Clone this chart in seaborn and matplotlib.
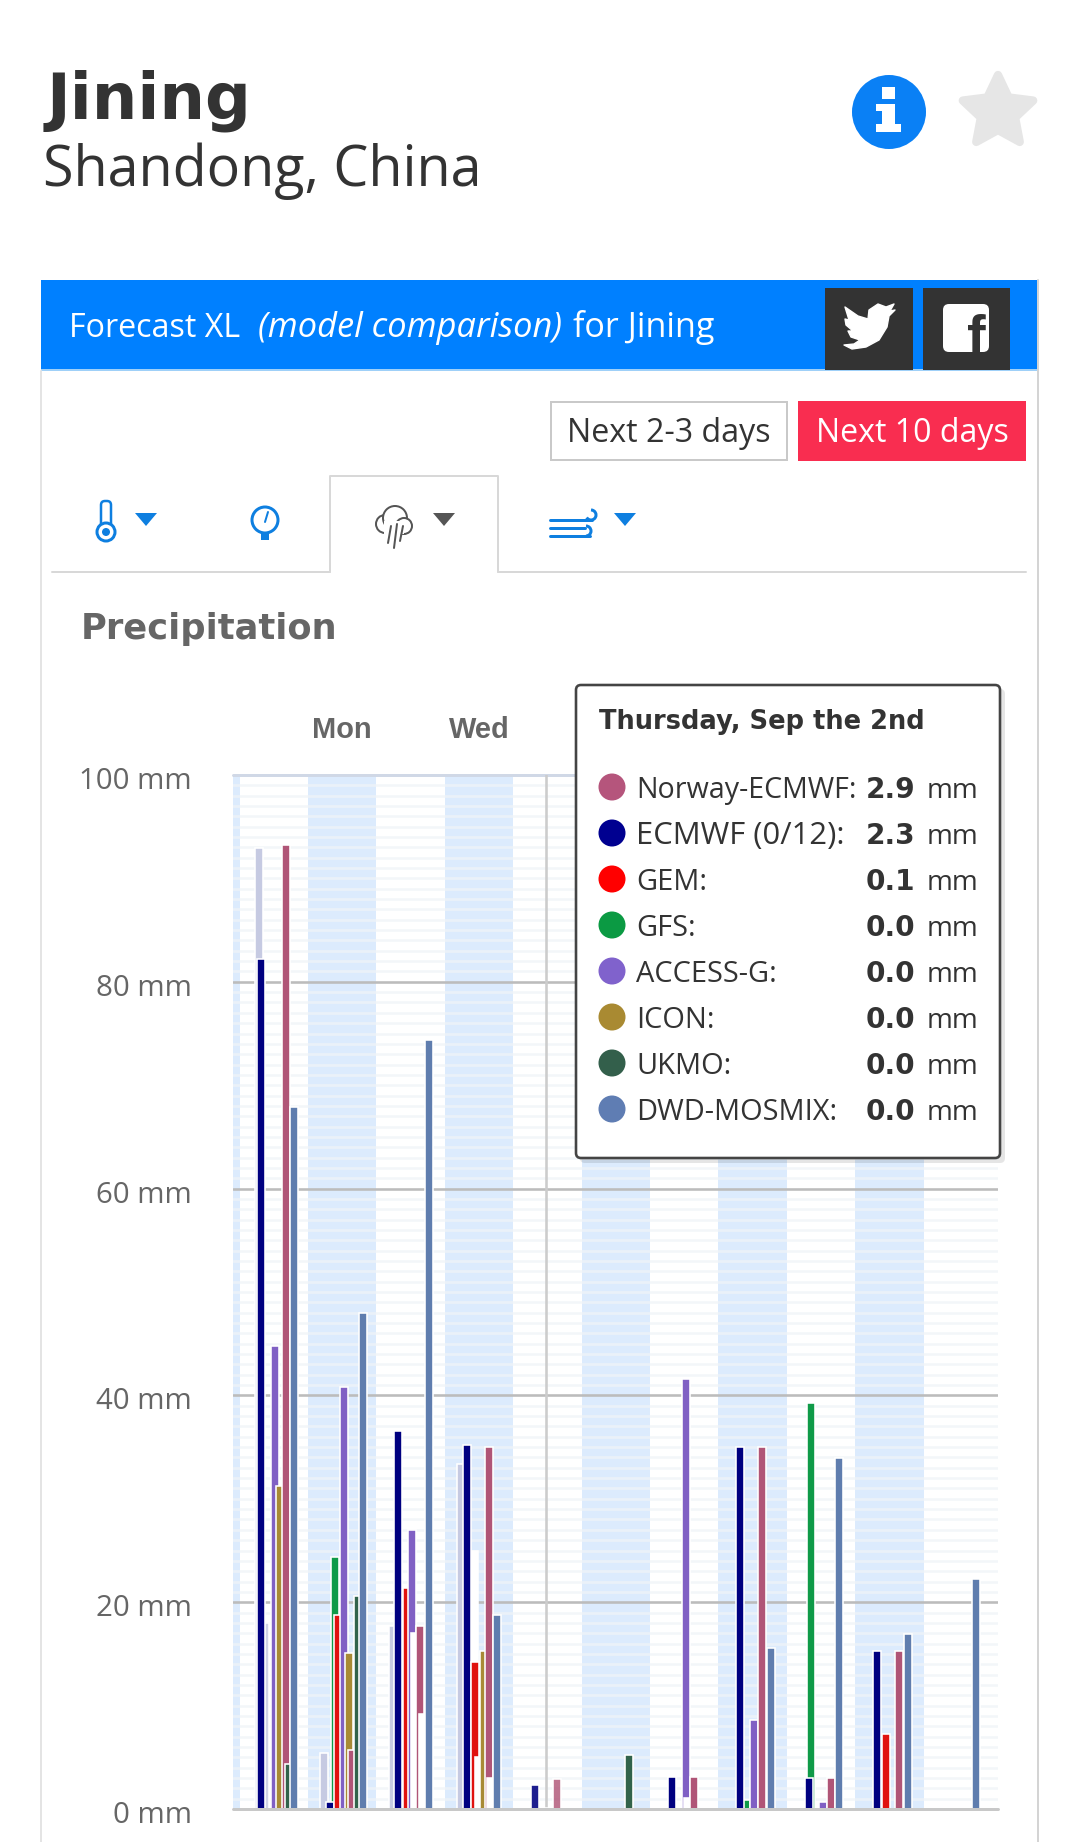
import numpy as np
import pandas as pd
import seaborn as sns
import matplotlib
matplotlib.use("Agg")
import matplotlib.pyplot as plt
from matplotlib.patches import Rectangle, Circle, FancyBboxPatch, Polygon
from matplotlib.lines import Line2D

# ---------- data (mm per day; days start at the first full Sunday) ----------
days = ["Sun", "Mon", "Tue", "Wed", "Thu", "Fri", "Sat", "Sun2", "Mon2", "Tue2", "Wed2"]
norway = [93.2, 5.7, 17.7, 35.0, 2.9, 0, 3.1, 35.0, 3.0, 15.3, 0]
ecmwf = [82.2, 0.7, 36.6, 35.2, 2.3, 0, 3.1, 35.0, 3.0, 15.3, 0]
gem = [0, 18.8, 21.4, 14.2, 0.1, 0, 0, 0, 0, 7.3, 0]
gfs = [0, 24.4, 0, 0, 0, 0, 0, 0.9, 39.3, 0, 0]
access = [44.8, 40.8, 27.0, 0, 0, 0, 41.6, 8.6, 0.7, 0, 0]
icon = [31.2, 15.1, 0, 15.3, 0, 0, 0, 0, 0, 0, 0]
ukmo = [4.4, 20.6, 0, 0, 0, 5.2, 0, 0, 0, 0, 0]
dwd = [67.9, 48.0, 74.4, 18.8, 0, 0, 0, 15.6, 33.9, 16.9, 22.2]
pale_a = [92.9, 5.4, 17.7, 33.4, 0, 0, 0, 0, 0, 0, 0]
pale_b = [18.0, 0, 0, 0, 0, 0, 0, 0, 0, 0, 0]
hidden_a = [0, 0, 0, 25.0, 0, 0, 0, 0, 0, 0, 0]
hidden_b = [0, 0, 17.0, 5.0, 0, 0, 1.1, 0, 0, 0, 0]
hidden_c = [0, 0, 9.2, 3.0, 0, 0, 0, 0, 0, 0, 0]

y_ticks = [0, 20, 40, 60, 80, 100]
visible_day_labels = {"Mon": 1, "Wed": 3}
tooltip_title = "Thursday, Sep the 2nd"
tooltip_names = ["Norway-ECMWF:", "ECMWF (0/12):", "GEM:", "GFS:", "ACCESS-G:", "ICON:", "UKMO:", "DWD-MOSMIX:"]
tooltip_values = ["2.9", "2.3", "0.1", "0.0", "0.0", "0.0", "0.0", "0.0"]
tooltip_colors = ["#b5557c", "#000090", "#ff0000", "#0b9a43", "#8062cc", "#a98a32", "#335f4b", "#5f7db3"]

# ---------- styles / geometry ----------
W, H = 1080, 1842
AX_L, AX_R, AX_T, AX_B = 233, 998, 775, 1809
DAY_PX, DAY0_PX = 68.4, 239.6
NAVY_PX = 21.8
BAR_PX, EDGE_PX = 8.0, 1.6
px_pt = 72 / 100

series = [  # drawn in this order
    ("pale_a", pale_a, "#c6cae2", -5.5),
    ("pale_b", pale_b, "#cfd2e6", 4),
    ("gfs", gfs, "#0f9a48", 5),
    ("hidden_a", hidden_a, "#ffffff", 7),
    ("ecmwf", ecmwf, "#000080", 0),
    ("gem", gem, "#e0120f", 8.5),
    ("access", access, "#8060c4", 14),
    ("hidden_b", hidden_b, "#ffffff", 0),
    ("icon", icon, "#a88a35", 19),
    ("norway", norway, "#b05577", 22),
    ("hidden_c", hidden_c, "#ffffff", 25),
    ("ukmo", ukmo, "#32634b", 28),
    ("dwd", dwd, "#5f7dae", 30.5),
]
offset_override = {
    ("pale_a", 0): -2, ("norway", 0): 25, ("ukmo", 5): 25.5, ("dwd", 0): 33, ("dwd", 1): 33,
    ("icon", 3): 17, ("gfs", 7): 6, ("gfs", 8): 2.5, ("hidden_b", 2): 17, ("hidden_b", 3): 12,
    ("hidden_b", 6): 16.5, ("hidden_c", 3): 24,
}
hover_alpha = {"ecmwf": 0.88, "norway": 0.82}

sns.set_theme(style="white")
plt.rcParams["font.family"] = ["Open Sans", "DejaVu Sans"]

fig = plt.figure(figsize=(W / 100, H / 100), dpi=100, facecolor="white")
ax = fig.add_axes([AX_L / W, 1 - AX_B / H, (AX_R - AX_L) / W, (AX_B - AX_T) / H], zorder=1)

# alternating day bands
for start in [-1, 1, 3, 5, 7, 9]:
    ax.axvspan(start, start + 1, color="#dcebfd", lw=0, zorder=0)

# bars, one seaborn call per mark so that overlaps stack as in the reference
bar_w = BAR_PX / DAY_PX
for name, values, colour, slot in series:
    for i, v in enumerate(values):
        if v <= 0:
            continue
        off = offset_override.get((name, i), slot)
        xpos = i + (NAVY_PX + off) / DAY_PX
        frame = pd.DataFrame({"x": [xpos], "y": [v]})
        n0 = len(ax.patches)
        sns.barplot(data=frame, x="x", y="y", native_scale=True, width=bar_w, color=colour,
                    saturation=1, edgecolor="white", linewidth=EDGE_PX * px_pt, errorbar=None, ax=ax)
        if i == 4 and name in hover_alpha:
            for p in ax.patches[n0:]:
                p.set_facecolor(matplotlib.colors.to_rgba(colour, hover_alpha[name]))

ax.set_xlim((AX_L - DAY0_PX) / DAY_PX, (AX_R - DAY0_PX) / DAY_PX)
ax.set_ylim(0, 100)
ax.set_xlabel("")
ax.set_ylabel("")
ax.set_facecolor("none")
ax.set_axisbelow(True)

ax.set_yticks(y_ticks)
ax.set_yticklabels([f"{v} mm" for v in y_ticks], fontsize=29.5 * px_pt, color="#666666", family="Open Sans")
ax.set_yticks(np.arange(0, 101, 1), minor=True)
ax.tick_params(axis="y", which="both", length=0, pad=41 * px_pt)
ax.grid(False)
ax.grid(True, axis="y", which="minor", color="#f0f4f8", lw=2.6 * px_pt, alpha=0.75)
ax.grid(True, axis="y", which="major", color="#bcbcbc", lw=2.6 * px_pt)
ax.xaxis.tick_top()
ax.set_xticks([d + 0.5 for d in visible_day_labels.values()])
ax.set_xticklabels(list(visible_day_labels.keys()), fontsize=29 * px_pt, fontweight="bold",
                   color="#666666", family="Liberation Sans")
ax.tick_params(axis="x", length=0, pad=31 * px_pt)
for lab in ax.get_yticklabels():
    lab.set_transform(lab.get_transform() + matplotlib.transforms.ScaledTranslation(0, -3 / 100, fig.dpi_scale_trans))
for s in ax.spines.values():
    s.set_visible(False)
ax.axhline(100, color="#d0d8e6", lw=3 * px_pt, zorder=0.6, clip_on=False)
ax.axhline(0, color="#c8c8c8", lw=3 * px_pt, zorder=5, clip_on=False)
ax.axvline(4.48, color="#cccccc", lw=2.6 * px_pt, zorder=0.8)

# ---------- page furniture in pixel coordinates ----------
ov = fig.add_axes([0, 0, 1, 1], zorder=2)
ov.set_xlim(0, W)
ov.set_ylim(H, 0)
ov.axis("off")
ov.patch.set_alpha(0)


def T(x, y, s, px, color="#333333", weight="normal", ha="left", va="baseline", family="Open Sans", style="normal", width=None, z=10):
    t = ov.text(x, y, s, fontsize=px * px_pt, color=color, fontweight=weight, ha=ha, va=va,
                family=family, style=style, zorder=z)
    if width:
        r = fig.canvas.get_renderer()
        t.set_fontsize(t.get_fontsize() * width / t.get_window_extent(r).width)
    return t


T(47, 118, "Jining", 66, weight="bold", width=204, family="DejaVu Sans")
T(43, 186, "Shandong, China", 56, width=439, family="Open Sans")

# info and star
ov.add_patch(Circle((889, 112), 37, color="#0a80f5", lw=0))
ov.add_patch(Rectangle((882, 87), 13, 12, color="white", lw=0))
ov.add_patch(Rectangle((882, 104), 13, 27, color="white", lw=0))
ov.add_patch(Rectangle((876, 104), 10, 7, color="white", lw=0))
ov.add_patch(Rectangle((876, 124), 25, 8, color="white", lw=0))
ang = np.deg2rad(np.arange(-90, 270, 36))
rad = np.where(np.arange(10) % 2 == 0, 37, 18)
star = np.c_[998 + rad * np.cos(ang), 112 + rad * np.sin(ang)]
ov.add_patch(Polygon(star, closed=True, fc="#e6e6e6", ec="#e6e6e6", lw=6, joinstyle="round"))

# panel
ov.add_line(Line2D([41, 41], [371, H], color="#e4e4e4", lw=2 * px_pt))
ov.add_line(Line2D([1038, 1038], [280, H], color="#d4d4d4", lw=2 * px_pt))
ov.add_patch(Rectangle((41, 280), 997, 91, color="#0080ff", lw=0))
ov.add_patch(Rectangle((41, 369.5), 997, 2, color="#9fd0f8", lw=0))
T(69, 337, "Forecast XL", 33, color="white", width=172)
T(258, 337, "(model comparison)", 33, color="white", style="italic", width=304)
T(573, 337, "for Jining", 33, color="white", width=142)

# social buttons
ov.add_patch(Rectangle((825, 288), 88, 82, color="#333333", lw=0))
ov.add_patch(Rectangle((923, 288), 87, 82, color="#333333", lw=0))
bird = np.array([[845, 307], [858, 316], [868, 319], [869, 310], [878, 304], [886, 307], [894, 304],
                 [890, 311], [895, 310], [889, 316], [887, 327], [879, 340], [866, 347], [852, 349],
                 [844, 345], [854, 344], [860, 340], [851, 337], [848, 331], [853, 331], [846, 325],
                 [845, 319], [849, 320]])
ov.add_patch(Polygon(bird, closed=True, fc="white", ec="white", lw=1, joinstyle="round"))
ov.add_patch(FancyBboxPatch((945, 306), 42, 44, boxstyle="round,pad=2,rounding_size=6", fc="white", ec="white", lw=0))
T(976, 354, "f", 56, color="#333333", weight="bold", ha="center", family="Liberation Sans")

# range buttons
ov.add_patch(Rectangle((551, 402), 236, 58, fc="white", ec="#c9c9c9", lw=2 * px_pt))
T(669, 442, "Next 2-3 days", 32, ha="center", width=204)
ov.add_patch(Rectangle((798, 401), 228, 60, color="#f92d50", lw=0))
T(912, 442, "Next 10 days", 32, color="white", ha="center", width=193)

# tabs
ov.add_line(Line2D([52, 330], [572, 572], color="#d8d8d8", lw=2 * px_pt))
ov.add_line(Line2D([498, 1026], [572, 572], color="#d8d8d8", lw=2 * px_pt))
ov.add_line(Line2D([330, 330, 498, 498], [572, 476, 476, 572], color="#d8d8d8", lw=2 * px_pt))
blue = "#0e7fe0"
ov.add_patch(FancyBboxPatch((102, 502), 8, 34, boxstyle="round,pad=1,rounding_size=4", fc="white", ec=blue, lw=2.5 * px_pt))
ov.add_patch(Circle((106, 532), 9, fc="white", ec=blue, lw=3 * px_pt))
ov.add_patch(Circle((106, 532), 4, fc=blue, lw=0))
for cx, col in [(146, blue), (444, "#555555"), (625, blue)]:
    ov.add_patch(Polygon([[cx - 11, 513], [cx + 11, 513], [cx, 526]], closed=True, fc=col, lw=0))
ov.add_patch(Circle((265, 520), 13, fc="white", ec=blue, lw=3 * px_pt))
ov.add_patch(Rectangle((261, 532), 8, 8, color=blue, lw=0))
ov.add_line(Line2D([265, 268], [522, 512], color=blue, lw=2 * px_pt))
cloud = "#555555"
for c, r in [((385, 524), 9), ((395, 518), 12), ((404, 526), 8)]:
    ov.add_patch(Circle(c, r, fc="white", ec=cloud, lw=2 * px_pt))
ov.add_patch(Rectangle((384, 521), 20, 13, fc="white", lw=0))
for x0, y0, y1 in [(391, 526, 543), (397, 524, 548), (403, 526, 541)]:
    ov.add_line(Line2D([x0, x0 - 3], [y0, y1], color=cloud, lw=2 * px_pt))
for y, x1 in [(520, 592), (528, 585), (536, 590)]:
    ov.add_line(Line2D([550, x1], [y, y], color=blue, lw=3 * px_pt))
ov.add_patch(matplotlib.patches.Arc((591, 515), 10, 10, theta1=-90, theta2=150, color=blue, lw=3 * px_pt))
ov.add_patch(matplotlib.patches.Arc((586, 531), 10, 10, theta1=-90, theta2=90, color=blue, lw=3 * px_pt))

T(81, 639, "Precipitation", 36, color="#666666", weight="bold", width=256, family="DejaVu Sans")

# tooltip
ov.add_patch(FancyBboxPatch((580, 689), 425, 474, boxstyle="round,pad=0,rounding_size=5", fc="#000000", alpha=0.10, lw=0, zorder=6))
ov.add_patch(FancyBboxPatch((576, 685), 424, 473, boxstyle="round,pad=0,rounding_size=5", fc="white", ec="#444444", lw=2.6 * px_pt, zorder=7))
T(599, 729, tooltip_title, 25, weight="bold", width=326, family="DejaVu Sans")
for k, (nm, val, col) in enumerate(zip(tooltip_names, tooltip_values, tooltip_colors)):
    y = 787 + 46 * k
    ov.add_patch(Circle((612, y), 13.5, color=col, lw=0, zorder=9))
    T(636, y + 11, nm, 29, width=(208 if k == 1 else (221 if k == 0 else None)))
    T(915, y + 11, val, 28, weight="bold", ha="right", family="DejaVu Sans")
    T(927, y + 11, "mm", 29, width=52)

fig.savefig("out.png", dpi=100, facecolor="white")
